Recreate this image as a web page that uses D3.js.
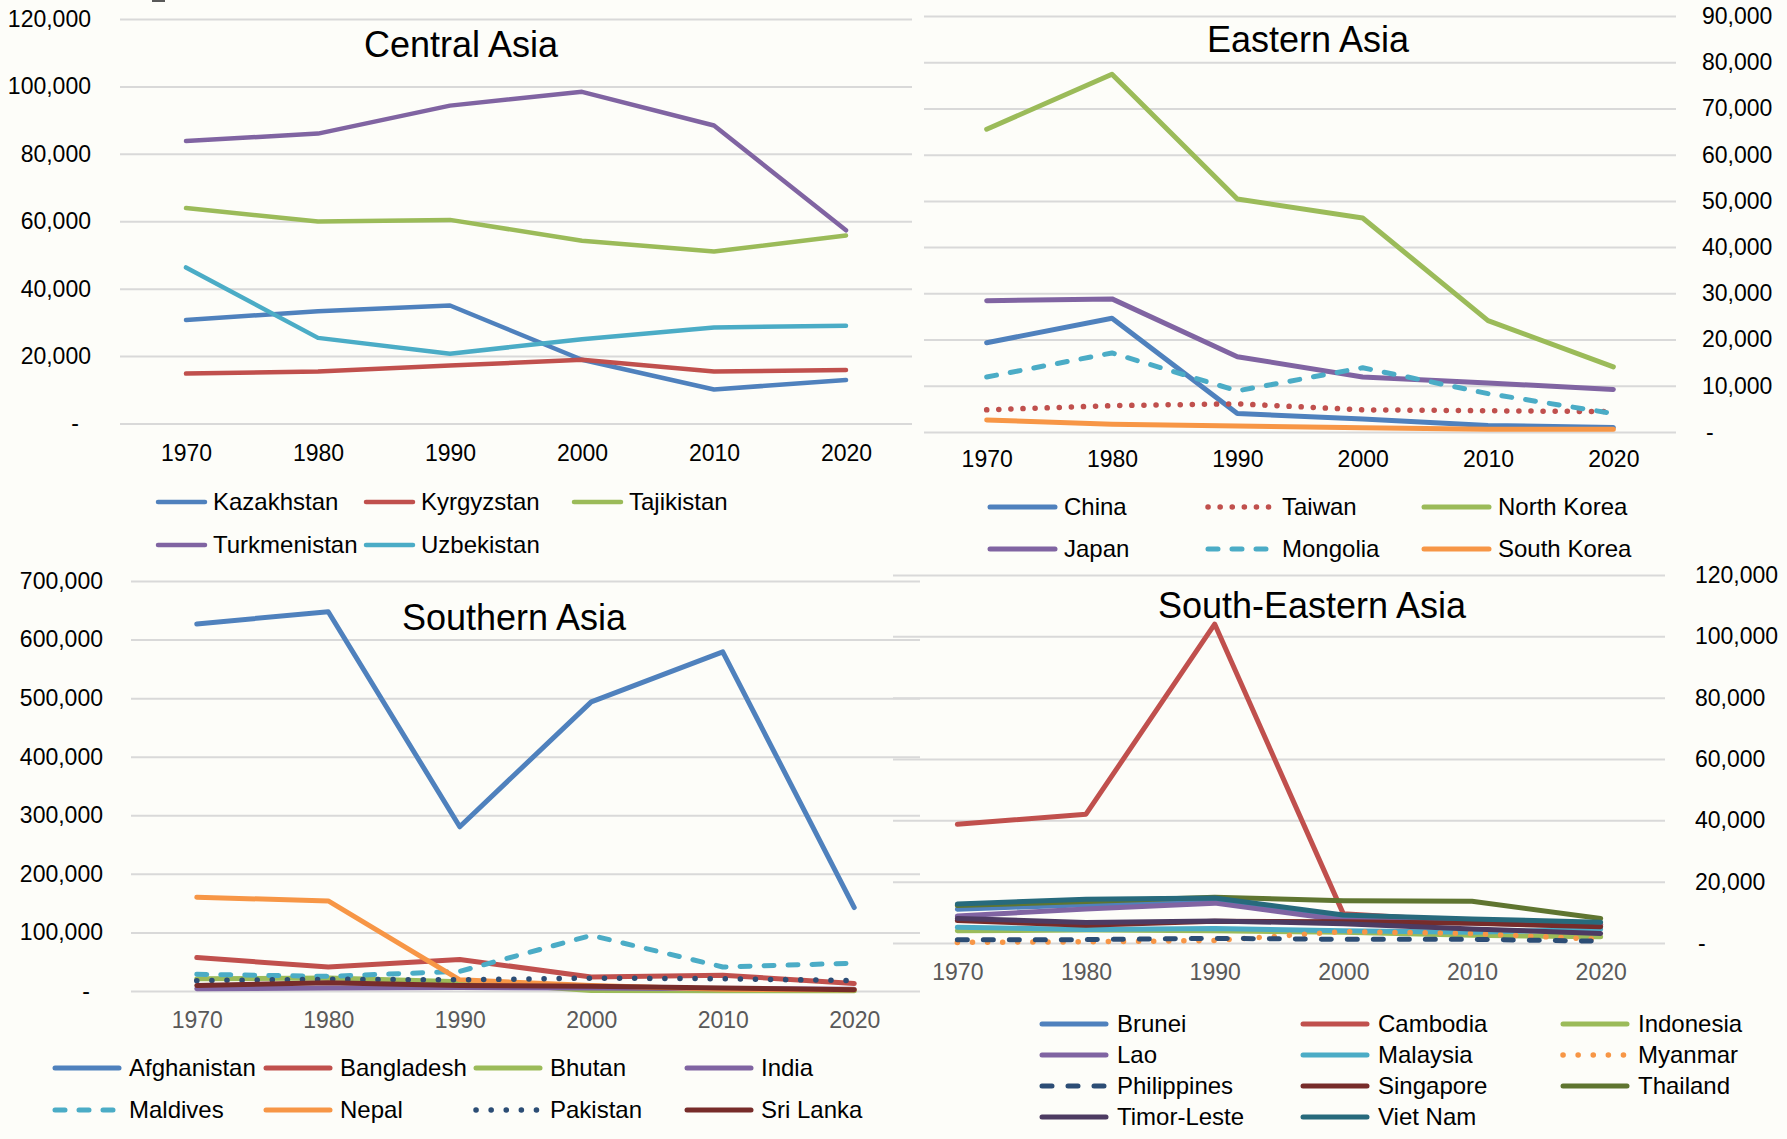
<!DOCTYPE html>
<html>
<head>
<meta charset="utf-8">
<script src="https://cdn.jsdelivr.net/npm/d3@7"></script>
<style>
  html, body { margin: 0; padding: 0; background: #fdfdf9; }
  svg { display: block; font-family: "Liberation Sans", Arial, sans-serif; }
</style>
</head>
<body>
<svg id="chart" width="1787" height="1139"></svg>
<script>
// ---- data ----
const years = [1970, 1980, 1990, 2000, 2010, 2020];

// Central Asia
const kazakhstan   = [30700, 33300, 35000, 18900, 10100, 12900];
const kyrgyzstan   = [14800, 15400, 17200, 18900, 15400, 15900];
const tajikistan   = [63900, 59900, 60400, 54200, 51000, 55800];
const turkmenistan = [83800, 86000, 94300, 98400, 88400, 57300];
const uzbekistan   = [46300, 25400, 20700, 25000, 28500, 29000];

// Eastern Asia
const china      = [19300, 24600, 4000, 2800, 1400, 1000];
const taiwan     = [4800, 5700, 6100, 4800, 4600, 4400];
const northKorea = [65500, 77400, 50400, 46300, 24100, 14100];
const japan      = [28400, 28800, 16300, 11900, 10600, 9200];
const mongolia   = [11900, 17100, 8900, 13900, 8300, 4000];
const southKorea = [2600, 1700, 1300, 900, 600, 600];

// Southern Asia
const afghanistan = [626700, 647600, 280400, 493700, 579000, 142400];
const bangladesh  = [57000, 41000, 53800, 24000, 27000, 12700];
const bhutan      = [21000, 22000, 16000, 1000, 500, 500];
const india       = [4000, 5000, 6000, 5000, 4000, 3000];
const maldives    = [28500, 25000, 33500, 95000, 41000, 47500];
const nepal       = [160000, 153800, 19000, 9500, 3000, 2000];
const pakistan    = [17700, 20000, 19000, 22000, 21000, 17700];
const sriLanka    = [9500, 14000, 9500, 8000, 5000, 2000];

// South-Eastern Asia
const brunei      = [11000, 12500, 13500, 8000, 7000, 6000];
const cambodia    = [38700, 42000, 104000, 9500, 7000, 6000];
const indonesia   = [4000, 4200, 4000, 3500, 2500, 2000];
const lao         = [8800, 11100, 13000, 7400, 6500, 5500];
const malaysia    = [5100, 4400, 4700, 4000, 3500, 4500];
const myanmar     = [200, 400, 800, 3700, 3100, 1200];
const philippines = [1100, 1100, 1500, 1200, 1200, 600];
const singapore   = [7300, 5800, 7100, 6900, 6400, 5300];
const thailand    = [12200, 13500, 14900, 13800, 13600, 8000];
const timorLeste  = [8000, 6700, 7200, 6300, 4600, 3100];
const vietNam     = [12700, 14300, 14700, 9100, 7800, 6800];

// ---- styles ----
const C = {
    blue: "#4f81bd", red: "#c0504d", green: "#9bbb59", purple: "#8064a2", aqua: "#4bacc6", orange: "#f79646",
    dBlue: "#2c4d75", dRed: "#772c2a", dGreen: "#5f7530", dPurple: "#4d3b62", dAqua: "#276a7c"
};
const DOT = "0.1,12", DOT2 = "0.1,15", DASH = "10,14", DASH2 = "10,16";

const panels = [
    {
        title: "Central Asia", tx: 461, ty: 57, x: [120, 912], y: [423.5, 19], max: 120000, step: 20000,
        side: "left", pad: 29, zeroShift: -12, xPad: 21, xCol: "#000", lw: 4.5,
        series: [
            ["Kazakhstan", kazakhstan, C.blue], ["Kyrgyzstan", kyrgyzstan, C.red], ["Tajikistan", tajikistan, C.green],
            ["Turkmenistan", turkmenistan, C.purple], ["Uzbekistan", uzbekistan, C.aqua]
        ],
        leg: { xs: [155, 363, 571], ys: [502, 545], len: 53, off: 58 }
    },
    {
        title: "Eastern Asia", tx: 1308, ty: 52, x: [924, 1676], y: [432, 16], max: 90000, step: 10000,
        side: "right", pad: 26, zeroShift: 4, xPad: 19, xCol: "#000", lw: 5,
        series: [
            ["China", china, C.blue], ["Taiwan", taiwan, C.red, DOT], ["North Korea", northKorea, C.green],
            ["Japan", japan, C.purple], ["Mongolia", mongolia, C.aqua, DASH], ["South Korea", southKorea, C.orange]
        ],
        leg: { xs: [987, 1205, 1421], ys: [507, 549], len: 71, off: 77 }
    },
    {
        title: "Southern Asia", tx: 514, ty: 630, x: [131, 920], y: [991, 581], max: 700000, step: 100000,
        side: "left", pad: 28, zeroShift: -13, xPad: 21, xCol: "#595959", lw: 5,
        series: [
            ["Afghanistan", afghanistan, C.blue], ["Bangladesh", bangladesh, C.red], ["Bhutan", bhutan, C.green],
            ["India", india, C.purple], ["Maldives", maldives, C.aqua, DASH], ["Nepal", nepal, C.orange],
            ["Pakistan", pakistan, C.dBlue, DOT2], ["Sri Lanka", sriLanka, C.dRed]
        ],
        leg: { xs: [52, 263, 473, 684], ys: [1068, 1110], len: 70, off: 77 }
    },
    {
        title: "South-Eastern Asia", tx: 1312, ty: 618, x: [893, 1665], y: [943, 575], max: 120000, step: 20000,
        side: "right", pad: 30, zeroShift: 3, xPad: 21, xCol: "#595959", lw: 5,
        series: [
            ["Brunei", brunei, C.blue], ["Cambodia", cambodia, C.red], ["Indonesia", indonesia, C.green],
            ["Lao", lao, C.purple], ["Malaysia", malaysia, C.aqua], ["Myanmar", myanmar, C.orange, DOT2],
            ["Philippines", philippines, C.dBlue, DASH2], ["Singapore", singapore, C.dRed], ["Thailand", thailand, C.dGreen],
            ["Timor-Leste", timorLeste, C.dPurple], ["Viet Nam", vietNam, C.dAqua]
        ],
        leg: { xs: [1039, 1300, 1560], ys: [1024, 1055, 1086, 1117], len: 70, off: 78 }
    }
];

const svg = d3.select("#chart");
svg.append("rect").attr("width", 1787).attr("height", 1139).attr("fill", "#fdfdf9");
svg.append("rect").attr("x", 152).attr("y", 0).attr("width", 13).attr("height", 2).attr("fill", "#595959");

const fmt = d3.format(",");
const gridLayer = svg.append("g"), markLayer = svg.append("g");

panels.forEach(p => {
    const xS = d3.scalePoint().domain(years).range(p.x).padding(0.5),
        yS = d3.scaleLinear().domain([0, p.max]).range(p.y),
        w = p.x[1] - p.x[0], isLeft = p.side === "left";

    // y axis + gridlines
    const yAxis = (isLeft ? d3.axisLeft(yS) : d3.axisRight(yS))
        .tickValues(d3.range(0, p.max + 1, p.step)).tickSize(-w).tickPadding(p.pad)
        .tickFormat(v => v ? fmt(v) : "-");
    gridLayer.append("g").attr("transform", `translate(${isLeft ? p.x[0] : p.x[1]},0)`).call(yAxis)
        .attr("font-family", null).attr("font-size", null)
        .call(a => a.select(".domain").remove())
        .call(a => a.selectAll(".tick line").attr("stroke", "#d9d9d9").attr("stroke-width", 2))
        .call(a => a.selectAll(".tick text").attr("fill", "#000").style("font-size", "23px")
            .filter(d => d === 0).attr("dx", p.zeroShift));

    // x axis labels
    gridLayer.append("g").attr("transform", `translate(0,${p.y[0]})`)
        .call(d3.axisBottom(xS).tickSize(0).tickPadding(p.xPad))
        .attr("font-family", null).attr("font-size", null)
        .call(a => a.select(".domain").remove())
        .call(a => a.selectAll(".tick text").attr("fill", p.xCol).style("font-size", "23px"));

    // title
    markLayer.append("text").attr("x", p.tx).attr("y", p.ty).attr("text-anchor", "middle")
        .style("font-size", "36px").attr("fill", "#000").text(p.title);

    // lines
    const line = d3.line().x((d, i) => xS(years[i])).y(d => yS(d));
    const g = markLayer.append("g");
    p.series.forEach(([name, vals, col, dash]) => {
        const path = g.append("path").datum(vals).attr("d", line).attr("fill", "none").attr("stroke", col)
            .attr("stroke-width", p.lw).attr("stroke-linejoin", "round").attr("stroke-linecap", "round");
        if (dash) path.attr("stroke-dasharray", dash).attr("stroke-width", dash === DOT || dash === DOT2 ? 5.5 : p.lw);
    });

    // legend
    const cols = p.leg.xs.length;
    p.series.forEach(([name, vals, col, dash], i) => {
        const lx = p.leg.xs[i % cols], ly = p.leg.ys[Math.floor(i / cols)];
        const s = markLayer.append("line").attr("x1", lx + 3).attr("x2", lx + p.leg.len - 3).attr("y1", ly).attr("y2", ly)
            .attr("stroke", col).attr("stroke-width", p.lw).attr("stroke-linecap", "round");
        if (dash) s.attr("stroke-dasharray", dash).attr("stroke-width", dash === DOT || dash === DOT2 ? 5.5 : p.lw);
        markLayer.append("text").attr("x", lx + p.leg.off).attr("y", ly).attr("dy", "0.35em")
            .style("font-size", "24px").attr("fill", "#000").text(name);
    });
});
</script>
</body>
</html>
